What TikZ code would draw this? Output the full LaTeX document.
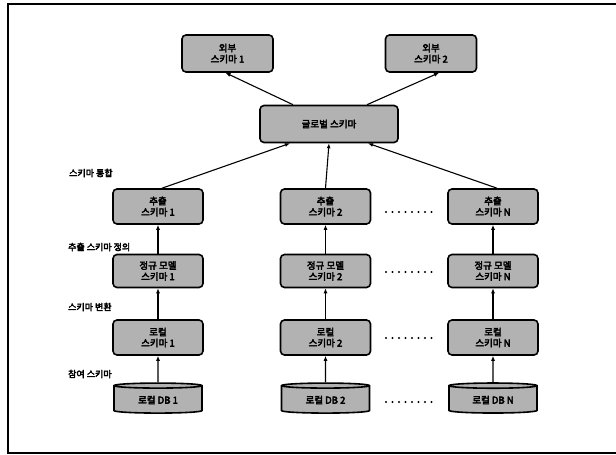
\documentclass[tikz,border=0pt]{standalone}
\usepackage{fontspec}
\setmainfont{Noto Sans CJK KR}
\newfontfamily\kbold[FakeBold=4]{Noto Sans CJK KR}
\usetikzlibrary{arrows.meta,shapes.geometric}
\begin{document}
\begin{tikzpicture}[x=1pt,y=-1pt,
  sbox/.style={draw=black,line width=1.6pt,rounded corners=4pt,fill=gray!60,
    minimum width=90pt,minimum height=35pt,align=center,inner sep=1pt,
    font=\kbold\fontsize{9.5}{11}\selectfont},
  dbbox/.style={draw=black,line width=1.6pt,fill=gray!60,cylinder,shape border rotate=90,
    aspect=0.12,minimum width=88pt,minimum height=30pt,inner sep=1pt,
    font=\kbold\fontsize{9.5}{11}\selectfont},
  lbl/.style={anchor=west,inner sep=0pt,font=\kbold\fontsize{9}{10}\selectfont},
  arr/.style={draw=black,line width=1.1pt,-{Latex[length=5pt,width=4pt]}},
  dots/.style={draw=black,line width=2.2pt,dash pattern=on 0pt off 6.5pt,line cap=round}
]
\useasboundingbox (0,0) rectangle (616,455);
\draw[line width=1.2pt] (620,4) -- (8,4) -- (8,453) -- (620,453);

\node[sbox,minimum width=91pt,minimum height=37pt] (ext1) at (227.5,53.5) {외부\\스키마 1};
\node[sbox,minimum width=91pt,minimum height=37pt] (ext2) at (431,53.5) {외부\\스키마 2};
\node[sbox,minimum width=138pt,minimum height=37pt] (glob) at (329,124) {글로벌 스키마};

\foreach \c/\x/\n in {1/158/1,2/325.5/2,3/493/N}{
  \node[sbox] (ex\c) at (\x,206.5) {추출\\스키마 \n};
  \node[sbox,minimum height=33pt] (nm\c) at (\x,271) {정규 모델\\스키마 \n};
  \node[sbox] (lc\c) at (\x,337.5) {로컬\\스키마 \n};
  \node[dbbox] (db\c) at (\x,400) {로컬 DB \n};
  \draw[arr] (db\c.north) -- (lc\c.south);
  \draw[arr] (lc\c.north) -- (nm\c.south);
  \draw[arr] (nm\c.north) -- (ex\c.south);
}

\draw[arr] ([xshift=-36pt]glob.north) -- ([xshift=-2pt]ext1.south);
\draw[arr] ([xshift=38pt]glob.north) -- ([xshift=8pt]ext2.south);
\draw[arr] ([xshift=4pt]ex1.north) -- ([xshift=-39pt]glob.south);
\draw[arr] (ex2.north) -- (glob.south);
\draw[arr] ([xshift=4pt]ex3.north) -- ([xshift=39pt]glob.south);

\coordinate (d1a) at (386,212); \coordinate (d1b) at (437,212);
\coordinate (d2a) at (386,272); \coordinate (d2b) at (437,272);
\coordinate (d3a) at (386,338); \coordinate (d3b) at (437,338);
\coordinate (d4a) at (386,402); \coordinate (d4b) at (437,402);
\draw[dots] (d1a) -- (d1b);
\draw[dots] (d2a) -- (d2b);
\draw[dots] (d3a) -- (d3b);
\draw[dots] (d4a) -- (d4b);

\node[lbl] (l1) at (69,173) {스키마 통합};
\node[lbl] (l2) at (68,247) {추출 스키마 정의};
\node[lbl] (l3) at (68,307) {스키마 변환};
\node[lbl] (l4) at (68,374) {참여 스키마};
\end{tikzpicture}
\end{document}
